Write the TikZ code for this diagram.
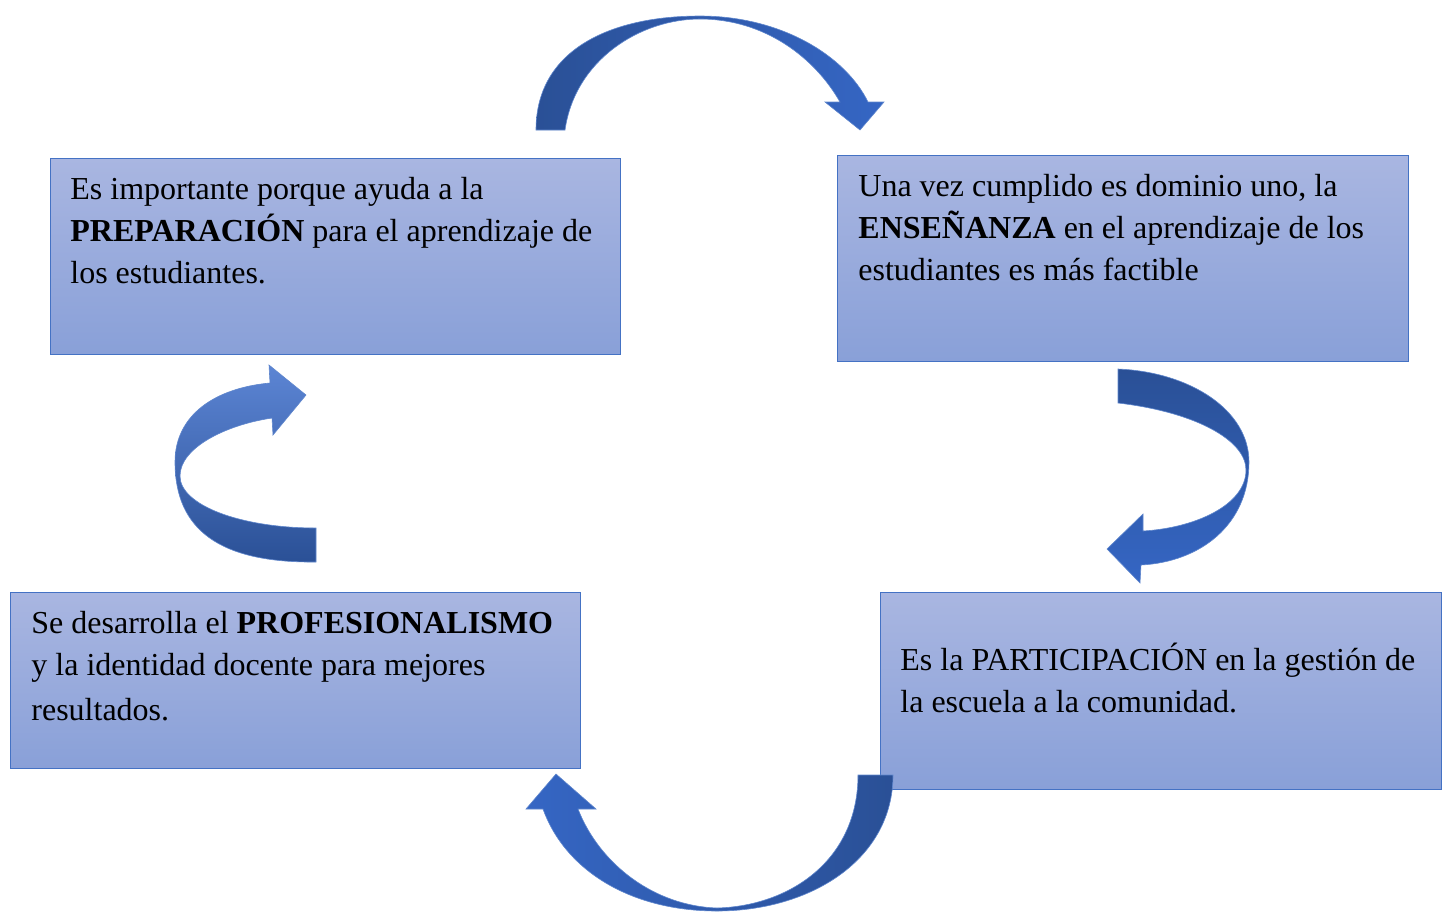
\documentclass[tikz,border=0pt]{standalone}
\usepackage{fontspec}
\setmainfont{Liberation Serif}
\usetikzlibrary{calc}

\definecolor{boxtop}{RGB}{169,182,225}
\definecolor{boxbottom}{RGB}{137,160,216}
\definecolor{boxline}{RGB}{68,114,196}
\definecolor{arrowdark}{RGB}{42,80,150}
\definecolor{arrowmid}{RGB}{53,102,196}
\definecolor{arrowlight}{RGB}{92,133,212}

\tikzset{
  infobox/.style={draw=boxline, line width=0.5pt, top color=boxtop, bottom color=boxbottom, anchor=north west, inner sep=0pt, outer sep=0pt},
  boxtext/.style={anchor=base west, inner sep=0pt, text width=290pt, align=flush left, font=\fontsize{16}{21}\selectfont},
  blockarrow/.style={draw=boxline!85, line width=0.3pt},
}

\begin{document}
\begin{tikzpicture}[x=0.5pt,y=0.5pt,yscale=-1,xscale=1]
\useasboundingbox (0,0) rectangle (1442,912);

%Shape: Rectangle [preparacion]
\node [infobox, minimum width=285pt, minimum height=98pt] (prep) at (50,158) {};
%Shape: Rectangle [ensenanza]
\node [infobox, minimum width=285.5pt, minimum height=103pt] (ense) at (837,155) {};
%Shape: Rectangle [participacion]
\node [infobox, minimum width=280.5pt, minimum height=98.5pt] (part) at (880,592) {};
%Shape: Rectangle [profesionalismo]
\node [infobox, minimum width=285pt, minimum height=88pt] (prof) at (10,592) {};

% Text Node
\node [boxtext] (preptext) at ($(prep.north west)+(20,41)$) {Es importante porque ayuda a la\\ \textbf{PREPARACIÓN} para el aprendizaje de\\ los estudiantes.};
% Text Node
\node [boxtext] (ensetext) at ($(ense.north west)+(21,41)$) {Una vez cumplido es dominio uno, la\\ \textbf{ENSEÑANZA} en el aprendizaje de los\\ estudiantes es más factible};
% Text Node
\node [boxtext] (parttext) at ($(part.north west)+(20,78)$) {Es la PARTICIPACIÓN en la gestión de\\ la escuela a la comunidad.};
% Text Node
\node [boxtext] (proftext) at ($(prof.north west)+(21,41)$) {Se desarrolla el \textbf{PROFESIONALISMO}\\ y la identidad docente para mejores\\[1.5pt] resultados.};

%Curved Arrow [top]
\draw [blockarrow, left color=arrowdark, right color=arrowmid] (536,130) .. controls (536,50) and (610,16) .. (700,16) .. controls (780,16) and (845,55) .. (868,102) -- (884,102) -- (860,130) -- (825,102) -- (840,102) .. controls (815,58) and (765,19) .. (700,19) .. controls (640,19) and (575,60) .. (565,130) -- cycle ;
%Curved Arrow [right]
\draw [blockarrow, top color=arrowdark, bottom color=arrowmid] (1118,369) .. controls (1190,372) and (1249,410) .. (1249,462) .. controls (1249,525) and (1200,562) .. (1141,565) -- (1140,583) -- (1107,549) -- (1143,514) -- (1143,531) .. controls (1195,528) and (1246,505) .. (1246,470) .. controls (1246,440) and (1195,412) .. (1118,403) -- cycle ;
%Curved Arrow [bottom]
\draw [blockarrow, left color=arrowmid, right color=arrowdark] (893,775) .. controls (893,860) and (810,911) .. (717,911) .. controls (630,911) and (565,870) .. (543,809) -- (526,809) -- (556,774) -- (596,809) -- (578,809) .. controls (600,865) and (655,906) .. (717,908) .. controls (790,906) and (858,860) .. (858,775) -- cycle ;
%Curved Arrow [left]
\draw [blockarrow, top color=arrowlight, bottom color=arrowdark] (316,562) .. controls (220,563) and (175,530) .. (175,462) .. controls (175,415) and (215,388) .. (270,383) -- (269,365) -- (306,395) -- (273,435) -- (272,418) .. controls (225,425) and (180,448) .. (180,476) .. controls (180,505) and (240,528) .. (316,528) -- cycle ;

\end{tikzpicture}
\end{document}
